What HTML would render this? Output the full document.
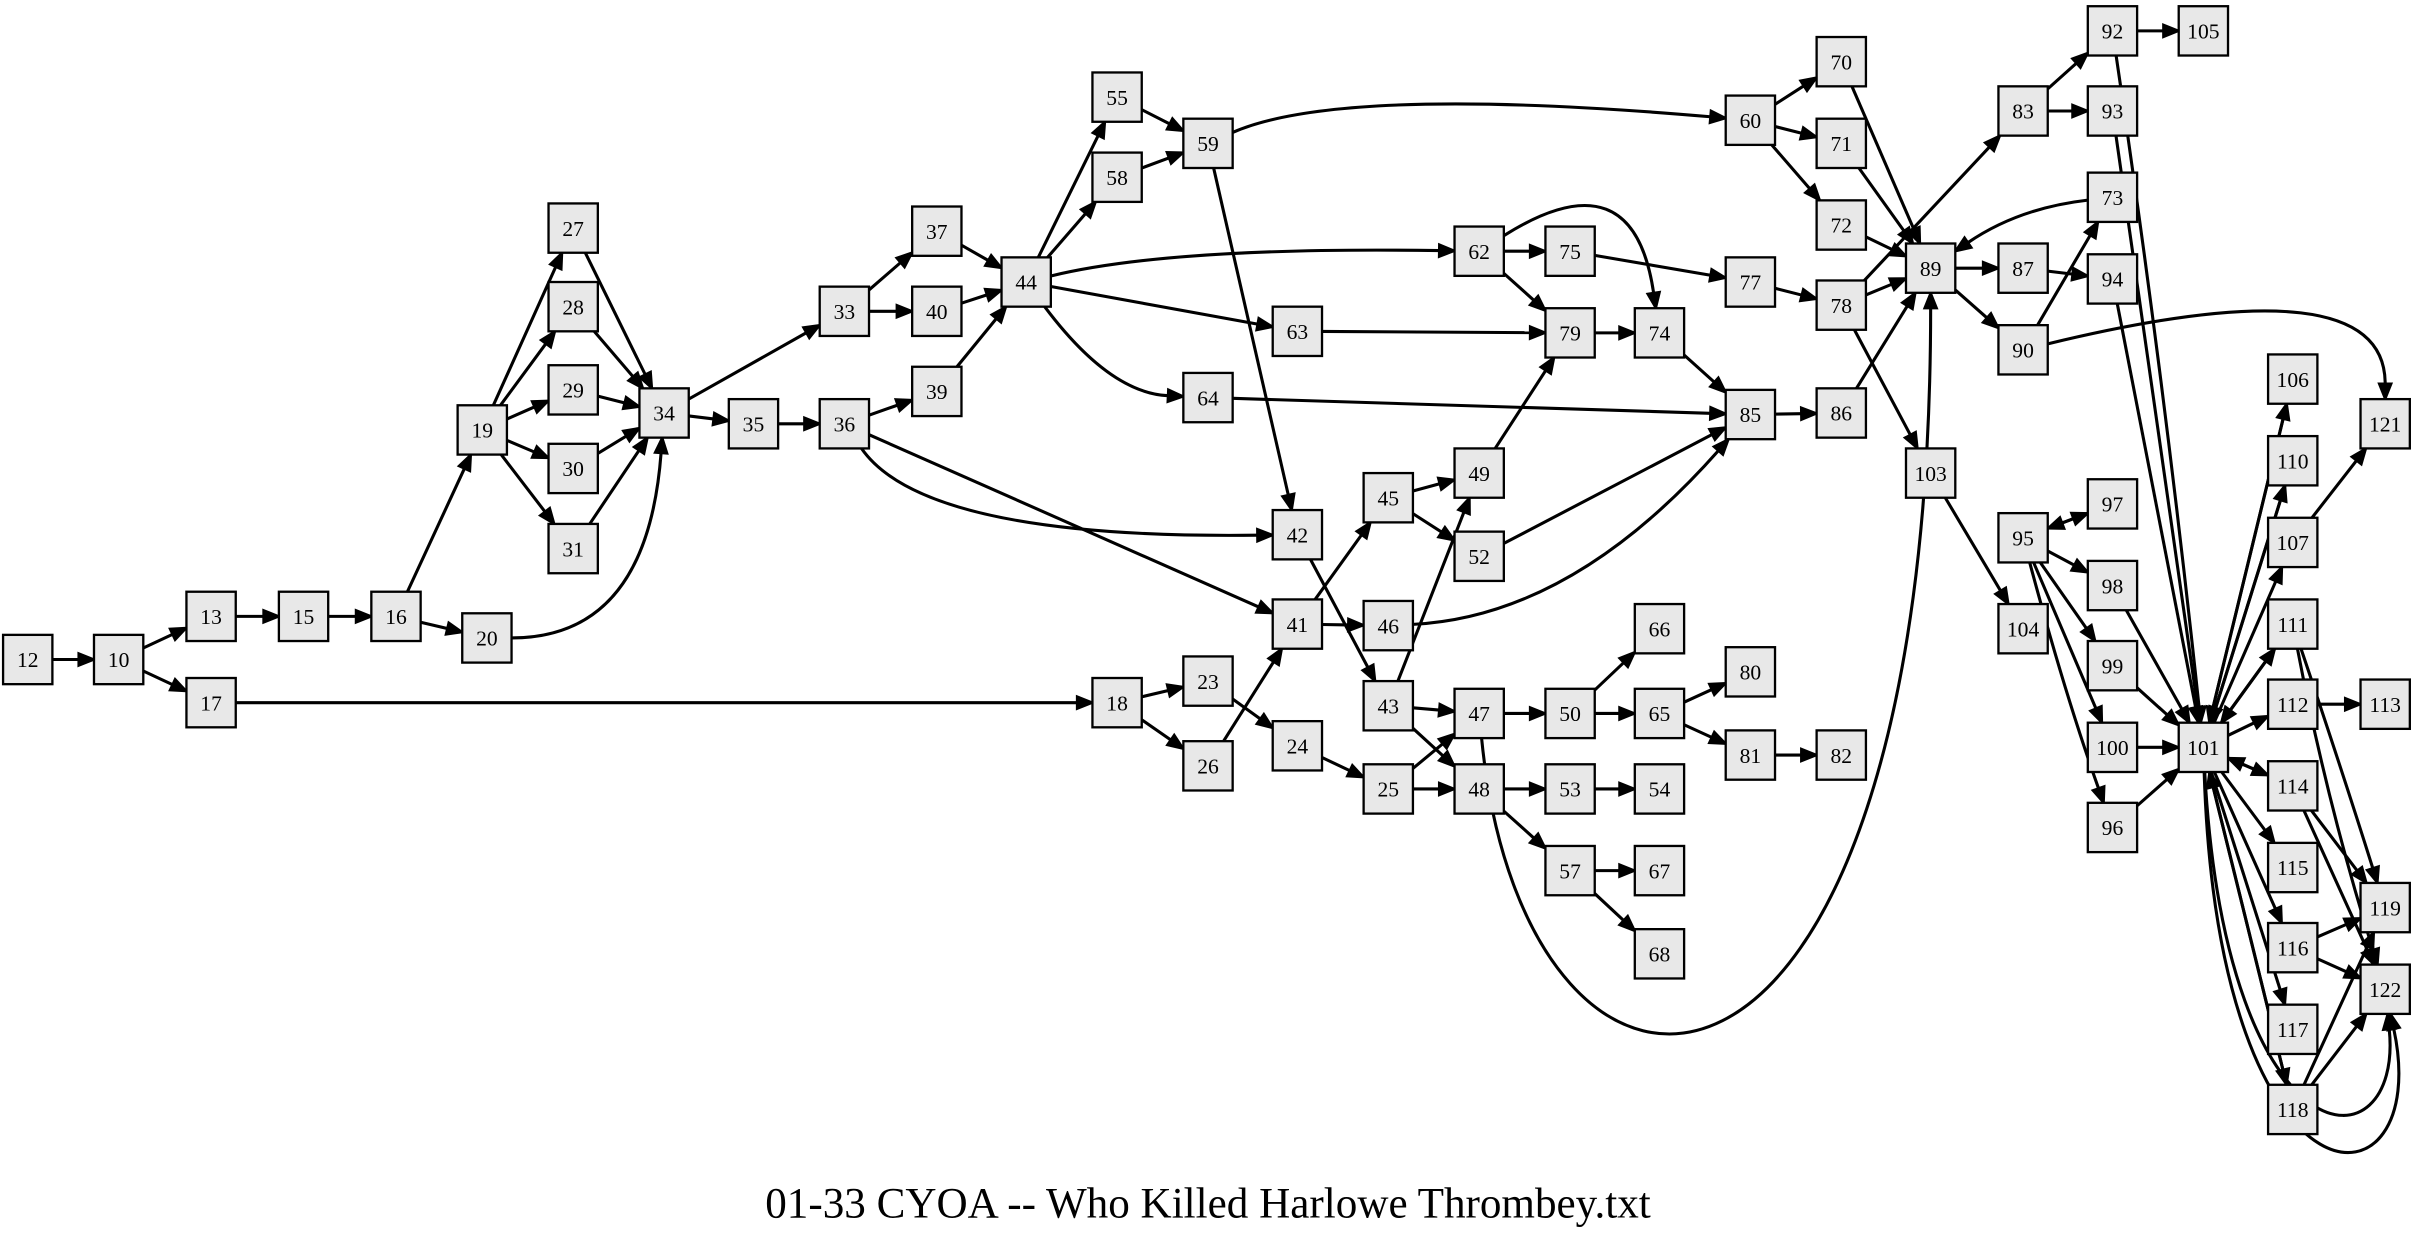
<!DOCTYPE html>
<html><head><meta charset="utf-8"><style>
html,body{margin:0;padding:0;background:#fff;width:2416px;height:1246px;overflow:hidden}
svg{display:block}
</style></head><body>
<svg id="g" width="2416" height="1246" viewBox="0 0 1568 808.6" xmlns="http://www.w3.org/2000/svg">
<rect width="1568" height="809" fill="#fff"/>
<g id="e"></g><g id="n"></g>
<text x="784" y="790" text-anchor="middle" font-family="Liberation Serif, serif" font-size="28">01-33 CYOA -- Who Killed Harlowe Thrombey.txt</text>
</svg>
<script>
var N={12:[18,428],10:[77,428],13:[137,400],17:[137,456],15:[197,400],16:[257,400],20:[316,414],19:[313,279],
27:[372,148],28:[372,199],29:[372,253],30:[372,304],31:[372,356],34:[431,268],33:[548,202],35:[489,275],36:[548,275],
37:[608,150],40:[608,202],39:[608,254],44:[666,183],55:[725,63],58:[725,115],59:[784,93],42:[842,347],62:[960,163],
63:[842,215],64:[784,258],18:[725,456],23:[784,442],26:[784,497],24:[842,484],41:[842,405],45:[901,323],46:[901,406],
43:[901,458],25:[901,512],49:[960,307],52:[960,361],47:[960,463],48:[960,512],75:[1019,163],79:[1019,216],74:[1077,216],
77:[1136,183],85:[1136,269],50:[1019,463],66:[1077,408],65:[1077,463],80:[1136,436],81:[1136,490],82:[1195,490],
53:[1019,512],54:[1077,512],57:[1019,565],67:[1077,565],68:[1077,619],60:[1136,78],70:[1195,40],71:[1195,93],72:[1195,146],
78:[1195,198],86:[1195,268],89:[1253,174],83:[1313,72],93:[1371,72],92:[1371,20],105:[1430,20],73:[1371,128],87:[1313,174],
94:[1371,181],90:[1313,227],103:[1253,307],104:[1313,408],95:[1313,349],97:[1371,327],98:[1371,380],99:[1371,432],
100:[1371,485],96:[1371,537],101:[1430,485],106:[1488,246],110:[1488,299],107:[1488,352],121:[1548,275],111:[1488,405],
112:[1488,457],113:[1548,457],114:[1488,510],115:[1488,563],116:[1488,615],117:[1488,668],118:[1488,720],119:[1548,589],122:[1548,642]};
var E=[[12,10],[10,13],[10,17],[13,15],[15,16],[16,19],[16,20],[19,27],[19,28],[19,29],[19,30],[19,31],[27,34],[28,34],[29,34],[30,34],[31,34],
[20,34,[420,414]],[34,33],[34,35],[35,36],[33,37],[33,40],[37,44],[40,44],[36,39],[39,44],[36,42,[600,350]],[36,41],[44,55],[44,58],
[44,62,[760,160]],[44,63],[44,64,[720,255]],[55,59],[58,59],[59,60,[870,55]],[59,42],[62,75],[62,79],[62,74,[1060,100]],[63,79],[64,85],
[75,77],[77,78],[79,74],[74,85],[85,86],[86,89],[78,89],[78,83],[78,103],[60,70],[60,71],[60,72],[70,89],[71,89],[72,89],[73,89,[1310,135]],
[89,87],[89,90],[87,94],[90,73],[90,121,[1548,170]],[83,92],[83,93],[92,105],[92,101,[1405,250]],[93,101],[94,101],[103,104],[17,18],[18,23],[18,26],
[23,24],[24,25],[26,41],[42,43],[41,45],[41,46],[45,49],[45,52],[43,49],[43,47],[43,48],[25,47],[25,48],[49,79],[52,85],[46,85,[1020,400]],
[47,50],[47,89,[990,770],[1253,770]],[50,66],[50,65],[65,80],[65,81],[81,82],[48,53],[48,57],[53,54],[57,67],[57,68],
[95,97],[97,95],[95,98],[95,99],[95,100],[95,96,[1340,450]],[98,101],[99,101],[100,101],[96,101],
[101,106],[106,101],[101,110],[110,101],[101,107],[107,121],[101,111],[111,101],[101,112],[112,113],[101,114],[114,101],[101,115],
[101,116],[101,117],[101,118],[118,101],[111,119,[1520,500]],[111,122,[1510,520]],[114,119],[114,122],[116,119],[116,122],[118,119],[118,122],
[101,122,[1445,760],[1560,760]],[101,122,[1440,800],[1580,790]]];
var ns="http://www.w3.org/2000/svg",eg=document.getElementById('e'),ng=document.getElementById('n');
function clip(c,p){var dx=p[0]-c[0],dy=p[1]-c[1];var t=Math.min(16/Math.abs(dx||1e-9),16/Math.abs(dy||1e-9));return [c[0]+dx*t,c[1]+dy*t];}
function mk(t,a){var el=document.createElementNS(ns,t);for(var k in a)el.setAttribute(k,a[k]);return el;}
E.forEach(function(ed){var A=N[ed[0]],B=N[ed[1]];var c1=ed[2],c2=ed[3];
 var s=clip(A,c1||B),last=c2||c1||A,e=clip(B,last);
 var dx=e[0]-last[0],dy=e[1]-last[1],L=Math.hypot(dx,dy);dx/=L;dy/=L;
 var al=10,aw=4,b=[e[0]-dx*al,e[1]-dy*al];
 var d='M'+s[0]+','+s[1];
 if(c2)d+=' C'+c1[0]+','+c1[1]+' '+c2[0]+','+c2[1]+' '+b[0]+','+b[1];
 else if(c1)d+=' Q'+c1[0]+','+c1[1]+' '+b[0]+','+b[1];
 else d+=' L'+b[0]+','+b[1];
 eg.appendChild(mk('path',{d:d,fill:'none',stroke:'#000','stroke-width':2}));
 eg.appendChild(mk('polygon',{points:e[0]+','+e[1]+' '+(b[0]-dy*aw)+','+(b[1]+dx*aw)+' '+(b[0]+dy*aw)+','+(b[1]-dx*aw),fill:'#000',stroke:'#000','stroke-width':1.5}));
});
for(var k in N){var p=N[k];
 ng.appendChild(mk('rect',{x:p[0]-16,y:p[1]-16,width:32,height:32,fill:'#e8e8e8',stroke:'#000','stroke-width':1.5}));
 var t=mk('text',{x:p[0],y:p[1]+5,'text-anchor':'middle','font-family':'Liberation Serif, serif','font-size':14});t.textContent=k;ng.appendChild(t);}
</script>
</body></html>
